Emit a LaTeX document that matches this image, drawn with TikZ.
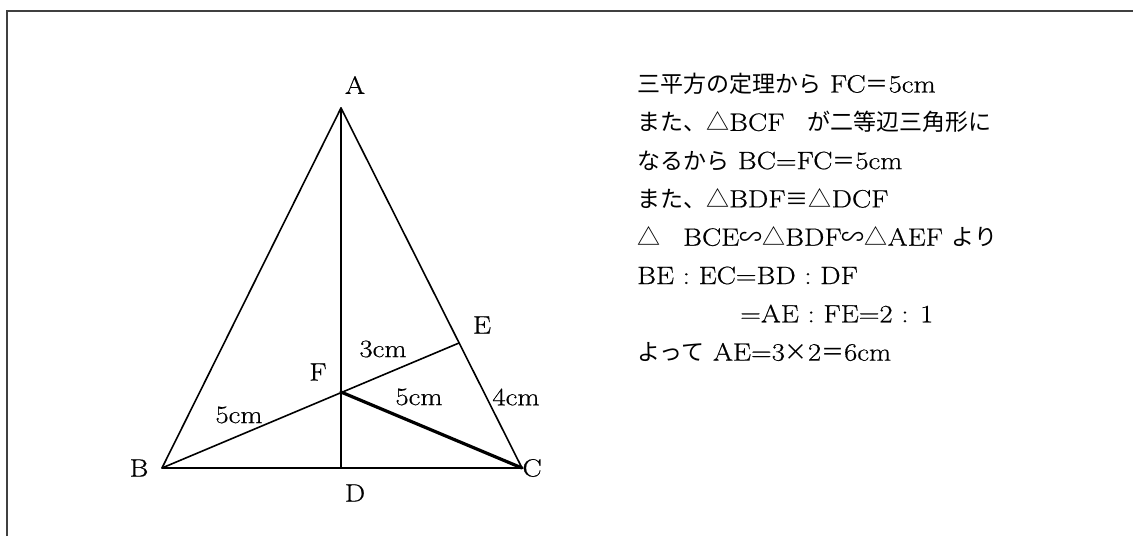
\documentclass[tikz,border=0pt]{standalone}
\usepackage{amssymb}
\usepackage{fontspec}
\setmainfont{Latin Modern Roman}[FakeBold=0.6,FakeStretch=1.15]
\newfontfamily\jp{Noto Sans CJK JP}
\newcommand{\J}[1]{{\jp\fontsize{23}{36}\selectfont #1}}
\begin{document}
\begin{tikzpicture}[x=1pt,y=-1pt,
  line/.style={line width=1.6pt, line cap=round, line join=round},
  thickline/.style={line width=3.2pt, line cap=round},
  frame/.style={line width=2pt, draw=black!75},
  lbl/.style={inner sep=0pt, font=\fontsize{25}{28}\selectfont},
  txt/.style={anchor=base west, inner sep=0pt, font=\fontsize{25}{28}\selectfont}]
\useasboundingbox (0,0) rectangle (1133,536);
\draw[frame] (7,536) -- (7,11) -- (1133,11);
% points
\coordinate (pA) at (341,108);
\coordinate (pB) at (162,468);
\coordinate (pC) at (522,468);
\coordinate (pD) at (341,468);
\coordinate (pF) at (341,392);
\coordinate (pE) at (459,343);
% edges
\draw[line] (pA) -- (pB) -- (pC) -- cycle;
\draw[line] (pA) -- (pD);
\draw[line] (pB) -- (pE);
\draw[thickline] (pF) -- (pC);
% labels
\node[lbl] (lA) at (355,85) {A};
\node[lbl] (lB) at (139,468) {B};
\node[lbl] (lC) at (532,468) {C};
\node[lbl] (lD) at (355,493) {D};
\node[lbl] (lE) at (482,325) {E};
\node[lbl] (lF) at (318,372) {F};
\node[lbl] (l3) at (383,349) {3cm};
\node[lbl] (l5a) at (239,415) {5cm};
\node[lbl] (l5b) at (419,397) {5cm};
\node[lbl] (l4) at (516,397) {4cm};
% text
\node[txt] (t1) at (637,92.5) {\J{三平方の定理から} FC\J{＝}5cm};
\node[txt] (t2) at (637,130.8) {\J{また、△}BCF\J{　が二等辺三角形に}};
\node[txt] (t3) at (637,169.1) {\J{なるから} BC=FC\J{＝}5cm};
\node[txt] (t4) at (637,207.4) {\J{また、△}BDF\J{≡△}DCF};
\node[txt] (t5) at (637,245.7) {\J{△　}BCE\J{∽△}BDF\J{∽△}AEF \J{より}};
\node[txt] (t6) at (637,284) {BE : EC=BD : DF};
\node[txt] (t7) at (740,322.3) {=AE : FE=2 : 1};
\node[txt] (t8) at (637,360.6) {\J{よって} AE=3\J{×}2\J{＝}6cm};
\end{tikzpicture}
\end{document}
